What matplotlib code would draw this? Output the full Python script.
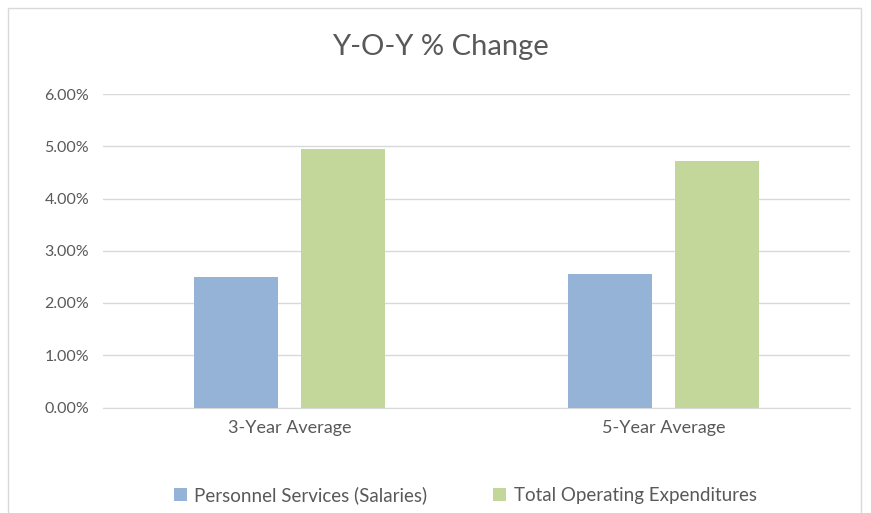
import matplotlib
matplotlib.use("Agg")
import matplotlib.pyplot as plt
from matplotlib.patches import Rectangle
from matplotlib.ticker import FuncFormatter
import numpy as np

categories = ["3-Year Average", "5-Year Average"]
personnel = [2.50, 2.55]
total_opex = [4.94, 4.72]
series_names = ["Personnel Services (Salaries)", "Total Operating Expenditures"]
colors = ["#95b3d7", "#c4d79b"]

plt.rcParams["font.family"] = ["Lato", "DejaVu Sans"]

fig = plt.figure(figsize=(8.71, 5.13), dpi=100)
fig.patches.append(Rectangle((8 / 871, -0.1), (861 - 8) / 871, 1 - 8 / 513 + 0.1,
                             transform=fig.transFigure, fill=False,
                             edgecolor="#d9d9d9", linewidth=1))

ax = fig.add_axes([103 / 871, 105.5 / 513, (850 - 103) / 871, (419 - 105.5) / 513])

x = np.arange(len(categories))
w = 0.225
ax.bar(x - 0.143, personnel, w, color=colors[0], label=series_names[0], zorder=3)
ax.bar(x + 0.143, total_opex, w, color=colors[1], label=series_names[1], zorder=3)

ax.set_xlim(-0.5, 1.5)
ax.set_ylim(0, 6)
ax.set_yticks(np.arange(0, 7, 1))
ax.yaxis.set_major_formatter(FuncFormatter(lambda v, p: f"{v:.2f}%"))
ax.set_xticks(x)
ax.set_xticklabels(categories)
ax.grid(axis="y", color="#d9d9d9", linewidth=1, zorder=0)
for s in ["top", "right", "left"]:
    ax.spines[s].set_visible(False)
ax.spines["bottom"].set_color("#d9d9d9")
ax.tick_params(length=0, colors="#595959")
ax.tick_params(axis="y", pad=10, labelsize=11.5)
ax.tick_params(axis="x", pad=9, labelsize=13)

fig.text(440 / 871, 1 - 47 / 513, "Y-O-Y % Change", ha="center", va="center",
         fontsize=21, color="#595959")

fig.legend(loc="center", bbox_to_anchor=(465 / 871, 1 - 495 / 513), ncol=2,
           frameon=False, fontsize=13.5, handlelength=0.7, handleheight=0.7,
           columnspacing=3.5, handletextpad=0.4, labelcolor="#595959")

fig.savefig("out.png", dpi=100)
